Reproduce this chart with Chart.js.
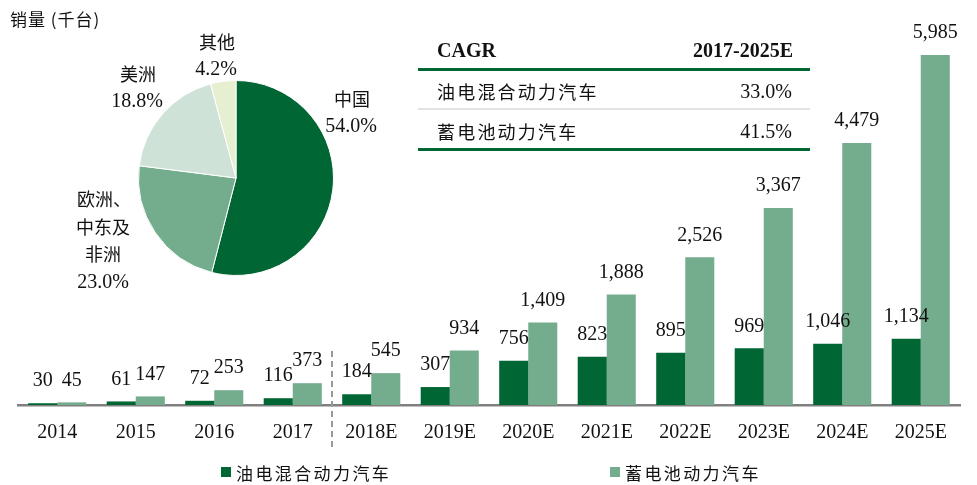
<!DOCTYPE html>
<html>
<head>
<meta charset="utf-8">
<script src="https://cdn.jsdelivr.net/npm/chart.js@4.4.1/dist/chart.umd.min.js"></script>
<style>
  body { margin: 0; background: #fff; }
  #wrap { position: relative; width: 977px; height: 485px; overflow: hidden; }
  #barChart { position: absolute; left: 0; top: 0; }
  #pieChart { position: absolute; left: 138px; top: 80px; }
  .txt { position: absolute; white-space: nowrap; color: #111; }
  .num { font-family: "Liberation Serif", "DejaVu Serif", serif; font-size: 20px; }
  .cjk { font-family: "Noto Sans CJK SC", sans-serif; font-size: 18px; }
  .ctr { transform: translate(-50%, -50%); text-align: center; }
  .lft { transform: translateY(-50%); }
  .rgt { transform: translate(-100%, -50%); }
  .rule { position: absolute; left: 418px; width: 392px; }
  .sw { position: absolute; width: 10px; height: 10px; }
</style>
</head>
<body>
<div id="wrap">
  <canvas id="barChart" width="977" height="485"></canvas>
  <canvas id="pieChart" width="196" height="196"></canvas>

  <!-- y axis title -->
  <div class="txt cjk lft" style="left:10px; top:18px; font-size:17px; letter-spacing:1px;">销量 (千台)</div>

  <!-- pie labels -->
  <div class="txt cjk ctr" style="left:217px; top:41px;">其他</div>
  <div class="txt num ctr" style="left:216px; top:68px;">4.2%</div>
  <div class="txt cjk ctr" style="left:138px; top:73px;">美洲</div>
  <div class="txt num ctr" style="left:137px; top:100px;">18.8%</div>
  <div class="txt cjk ctr" style="left:352px; top:98px;">中国</div>
  <div class="txt num ctr" style="left:351px; top:125px;">54.0%</div>
  <div class="txt cjk ctr" style="left:104px; top:198px;">欧洲、</div>
  <div class="txt cjk ctr" style="left:103px; top:226px;">中东及</div>
  <div class="txt cjk ctr" style="left:103px; top:253px;">非洲</div>
  <div class="txt num ctr" style="left:103px; top:281px;">23.0%</div>

  <!-- CAGR table -->
  <div class="txt num lft" style="left:437px; top:50px; font-weight:bold;">CAGR</div>
  <div class="txt num rgt" style="left:793px; top:50px; font-weight:bold;">2017-2025E</div>
  <div class="rule" style="top:68px; height:3px; background:#006633;"></div>
  <div class="txt cjk lft" style="left:437px; top:91px; letter-spacing:2.2px;">油电混合动力汽车</div>
  <div class="txt num rgt" style="left:792px; top:91px;">33.0%</div>
  <div class="rule" style="top:108px; height:2px; background:#e3e3e3;"></div>
  <div class="txt cjk lft" style="left:437px; top:131px; letter-spacing:2.2px;">蓄电池动力汽车</div>
  <div class="txt num rgt" style="left:792px; top:131px;">41.5%</div>
  <div class="rule" style="top:148px; height:3px; background:#006633;"></div>

  <!-- legend -->
  <div class="sw" style="left:221px; top:467px; background:#006633;"></div>
  <div class="txt cjk lft" style="left:236px; top:472px; font-size:17px; letter-spacing:2.4px;">油电混合动力汽车</div>
  <div class="sw" style="left:610px; top:467px; background:#74AC8E;"></div>
  <div class="txt cjk lft" style="left:625px; top:472px; font-size:17px; letter-spacing:2.4px;">蓄电池动力汽车</div>
</div>

<script>
// bar chart data (thousand units)
const years = ["2014", "2015", "2016", "2017", "2018E", "2019E", "2020E", "2021E", "2022E", "2023E", "2024E", "2025E"];
const hybridSales = [30, 61, 72, 116, 184, 307, 756, 823, 895, 969, 1046, 1134];
const batterySales = [45, 147, 253, 373, 545, 934, 1409, 1888, 2526, 3367, 4479, 5985];

// pie data (share by region, %)
const regions = ["中国", "欧洲、中东及非洲", "美洲", "其他"];
const regionShare = [54.0, 23.0, 18.8, 4.2];

const darkGreen = "#006633";
const midGreen = "#74AC8E";

// draws the value labels and the dashed actual/estimate divider
const barExtras = {
    id: "barExtras",
    afterDatasetsDraw(chart) {
        const ctx = chart.ctx;
        ctx.save();
        ctx.font = "20px 'Liberation Serif', serif";
        ctx.fillStyle = "#111";
        ctx.textAlign = "center";
        ctx.textBaseline = "middle";
        chart.data.datasets.forEach((ds, i) => {
            chart.getDatasetMeta(i).data.forEach((bar, j) => {
                ctx.fillText(ds.data[j].toLocaleString("en-US"), bar.x, bar.y - 22);
            });
        });

        const xs = chart.scales.x;
        const xDiv = (xs.getPixelForValue(3) + xs.getPixelForValue(4)) / 2;
        ctx.strokeStyle = "#999";
        ctx.lineWidth = 2;
        ctx.setLineDash([6, 4]);
        ctx.beginPath();
        ctx.moveTo(xDiv, 351);
        ctx.lineTo(xDiv, 448);
        ctx.stroke();
        ctx.restore();
    }
};

new Chart(document.getElementById("barChart"), {
    type: "bar",
    data: {
        labels: years,
        datasets: [
            { label: "油电混合动力汽车", data: hybridSales, backgroundColor: darkGreen },
            { label: "蓄电池动力汽车", data: batterySales, backgroundColor: midGreen }
        ]
    },
    options: {
        responsive: false,
        devicePixelRatio: 1,
        animation: false,
        categoryPercentage: 0.74,
        barPercentage: 1,
        layout: { padding: { left: 18, right: 17, top: 20, bottom: 24 } },
        plugins: { legend: { display: false }, tooltip: { enabled: false } },
        scales: {
            x: {
                grid: { display: false, drawTicks: false },
                border: { display: true, color: "#808080", width: 2.5 },
                ticks: {
                    color: "#111",
                    padding: 16,
                    font: { family: "'Liberation Serif', serif", size: 20 }
                }
            },
            y: { display: false, min: 0, max: 6583 }
        }
    },
    plugins: [barExtras]
});

new Chart(document.getElementById("pieChart"), {
    type: "pie",
    data: {
        labels: regions,
        datasets: [{
            data: regionShare,
            backgroundColor: [darkGreen, midGreen, "#CFE2D8", "#E6EFD0"],
            borderColor: "#fff",
            borderWidth: 1
        }]
    },
    options: {
        responsive: false,
        devicePixelRatio: 1,
        animation: false,
        plugins: { legend: { display: false }, tooltip: { enabled: false } }
    }
});
</script>
</body>
</html>
